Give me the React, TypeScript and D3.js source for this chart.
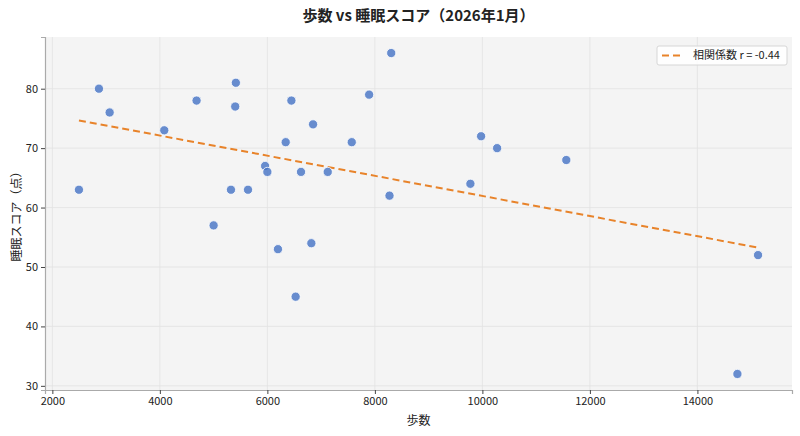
import React, { useEffect, useRef } from 'react';
import * as d3 from 'd3';

// 1月の日別データ（歩数・睡眠スコア）
const steps = [
  2495, 2867, 3066, 4082, 4683, 5414, 5402, 5000, 5323, 5640,
  5958, 6000, 6341, 6447, 6850, 6626, 7123, 7570, 7893, 8304,
  8272, 9976, 10274, 11561, 9777, 6197, 6818, 6526, 15128, 14744,
];
const sleepScores = [
  63, 80, 76, 73, 78, 81, 77, 57, 63, 63,
  67, 66, 71, 78, 74, 66, 66, 71, 79, 86,
  62, 72, 70, 68, 64, 53, 54, 45, 52, 32,
];
const xTicks = [2000, 4000, 6000, 8000, 10000, 12000, 14000];
const yTicks = [30, 40, 50, 60, 70, 80];
const legendLabel = '相関係数 r = -0.44';

const FONT = '"Noto Sans CJK JP", "Noto Sans", sans-serif';

const App: React.FC = () => {
  const svgRef = useRef<SVGSVGElement>(null);

  useEffect(() => {
    if (!svgRef.current) return;
    const svg = d3.select(svgRef.current);
    svg.selectAll('*').remove();

    const width = 800;
    const height = 436;
    const margin = { top: 37, right: 8, bottom: 46, left: 45 };
    const innerW = width - margin.left - margin.right;
    const innerH = height - margin.top - margin.bottom;

    const points = steps.map((s, i) => ({ x: s, y: sleepScores[i] }));

    // matplotlib風に5%の余白をとる
    const [xMin, xMax] = d3.extent(steps) as [number, number];
    const [yMin, yMax] = d3.extent(sleepScores) as [number, number];
    const xPad = (xMax - xMin) * 0.05;
    const yPad = (yMax - yMin) * 0.05;

    const x = d3.scaleLinear().domain([xMin - xPad, xMax + xPad]).range([0, innerW]);
    const y = d3.scaleLinear().domain([yMin - yPad, yMax + yPad]).range([innerH, 0]);

    // 最小二乗法で回帰直線
    const mx = d3.mean(steps)!;
    const my = d3.mean(sleepScores)!;
    const sxy = d3.sum(points, p => (p.x - mx) * (p.y - my));
    const sxx = d3.sum(points, p => (p.x - mx) ** 2);
    const slope = sxy / sxx;
    const intercept = my - slope * mx;
    const fit = [xMin, xMax].map(v => ({ x: v, y: intercept + slope * v }));

    const g = svg.append('g').attr('transform', `translate(${margin.left},${margin.top})`);

    g.append('rect')
      .attr('width', innerW)
      .attr('height', innerH)
      .attr('fill', '#f4f4f4');

    // grid
    g.append('g')
      .selectAll('line')
      .data(xTicks)
      .join('line')
      .attr('x1', d => x(d))
      .attr('x2', d => x(d))
      .attr('y1', 0)
      .attr('y2', innerH)
      .attr('stroke', '#e2e2e2')
      .attr('stroke-width', 0.8);
    g.append('g')
      .selectAll('line')
      .data(yTicks)
      .join('line')
      .attr('x1', 0)
      .attr('x2', innerW)
      .attr('y1', d => y(d))
      .attr('y2', d => y(d))
      .attr('stroke', '#e2e2e2')
      .attr('stroke-width', 0.8);

    // axes
    const xAxis = g.append('g')
      .attr('transform', `translate(0,${innerH})`)
      .call(d3.axisBottom(x).tickValues(xTicks).tickFormat(d3.format('d')).tickSize(4).tickPadding(3));
    const yAxis = g.append('g')
      .call(d3.axisLeft(y).tickValues(yTicks).tickFormat(d3.format('d')).tickSize(4).tickPadding(3));

    [xAxis, yAxis].forEach(ax => {
      ax.select('.domain').attr('stroke', '#aaaaaa').attr('stroke-width', 1.2);
      ax.selectAll('.tick line').attr('stroke', '#444');
      ax.selectAll('.tick text')
        .attr('fill', '#222')
        .style('font-family', FONT)
        .style('font-size', '11px');
    });

    // regression line
    g.append('path')
      .datum(fit)
      .attr('fill', 'none')
      .attr('stroke', '#e8832a')
      .attr('stroke-width', 2)
      .attr('stroke-dasharray', '7,4')
      .attr('d', d3.line<{ x: number; y: number }>().x(d => x(d.x)).y(d => y(d.y)));

    // points
    g.append('g')
      .selectAll('circle')
      .data(points)
      .join('circle')
      .attr('cx', d => x(d.x))
      .attr('cy', d => y(d.y))
      .attr('r', 4.6)
      .attr('fill', '#4472c4')
      .attr('fill-opacity', 0.8)
      .attr('stroke', '#ffffff')
      .attr('stroke-width', 0.8);

    // legend
    const lg = g.append('g').attr('transform', `translate(${innerW - 135},${9})`);
    lg.append('rect')
      .attr('width', 130)
      .attr('height', 19)
      .attr('rx', 2)
      .attr('fill', '#ffffff')
      .attr('fill-opacity', 0.85)
      .attr('stroke', '#d6d6d6');
    lg.append('line')
      .attr('x1', 5)
      .attr('x2', 27)
      .attr('y1', 9.5)
      .attr('y2', 9.5)
      .attr('stroke', '#e8832a')
      .attr('stroke-width', 2)
      .attr('stroke-dasharray', '7,4');
    lg.append('text')
      .attr('x', 36)
      .attr('y', 9.5)
      .attr('dy', '0.35em')
      .style('font-family', FONT)
      .style('font-size', '11px')
      .attr('fill', '#222')
      .text(legendLabel);

    // title & labels
    svg.append('text')
      .attr('x', margin.left + innerW / 2)
      .attr('y', 16)
      .attr('dy', '0.35em')
      .attr('text-anchor', 'middle')
      .style('font-family', FONT)
      .style('font-size', '15px')
      .style('font-weight', 'bold')
      .attr('fill', '#222')
      .text('歩数 vs 睡眠スコア（2026年1月）');

    svg.append('text')
      .attr('x', margin.left + innerW / 2)
      .attr('y', 421)
      .attr('dy', '0.35em')
      .attr('text-anchor', 'middle')
      .style('font-family', FONT)
      .style('font-size', '12px')
      .attr('fill', '#222')
      .text('歩数');

    svg.append('text')
      .attr('transform', `translate(17,${margin.top + innerH / 2}) rotate(-90)`)
      .attr('dy', '0.35em')
      .attr('text-anchor', 'middle')
      .style('font-family', FONT)
      .style('font-size', '12px')
      .attr('fill', '#222')
      .text('睡眠スコア（点）');
  }, []);

  return (
    <svg
      ref={svgRef}
      width={800}
      height={436}
      style={{ display: 'block', position: 'absolute', left: 0, top: 0, background: '#fff' }}
    />
  );
};

export default App;
